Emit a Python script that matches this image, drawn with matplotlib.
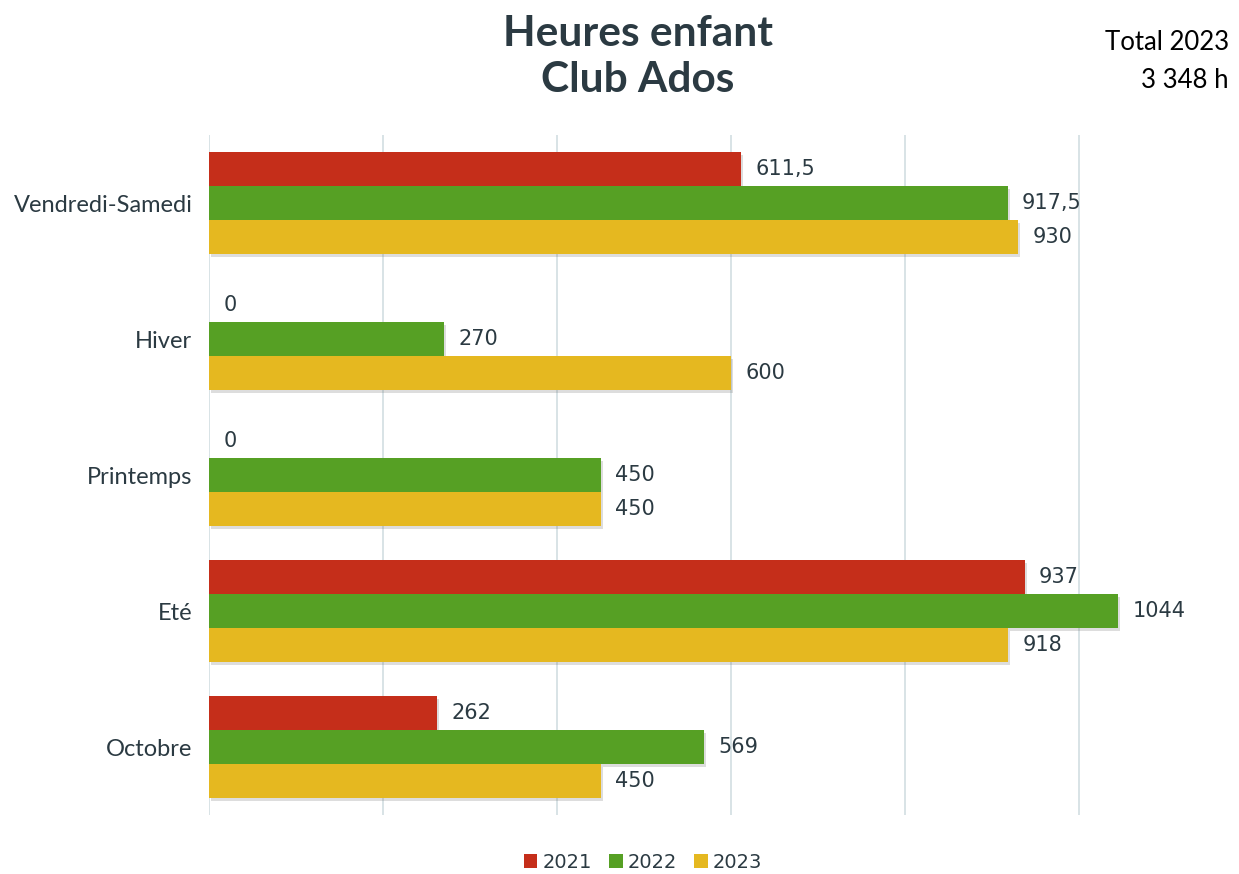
import numpy as np
import matplotlib.pyplot as plt
import matplotlib.patheffects as pe

#==================================DATA========================================#

categories = ["Vendredi-Samedi", "Hiver", "Printemps", "Eté", "Octobre"]
years = ["2021", "2022", "2023"]
h2021 = [611.5, 0, 0, 937, 262]
h2022 = [917.5, 270, 450, 1044, 569]
h2023 = [930, 600, 450, 918, 450]
grid_ticks = [0, 200, 400, 600, 800, 1000]

colors = ["#C52E1A", "#56A024", "#E5B820"]
txt = "#2B3A42"

def fmt(v):
    if v == int(v):
        return str(int(v))
    return str(v).replace(".", ",")

#==================================PLOT========================================#

fig = plt.figure(figsize=(12.39, 8.74), dpi=100)
ax = fig.add_axes([209/1239, 1 - 815/874, 1027/1239, 680/874])

y = np.arange(len(categories))
bh = 0.25
shadow = [pe.SimplePatchShadow(offset=(1.5, -2.2), shadow_rgbFace="#666666", alpha=0.22), pe.Normal()]

for k, (vals, c, yr) in enumerate(zip([h2021, h2022, h2023], colors, years)):
    pos = y + (k - 1) * bh
    bars = ax.barh(pos, vals, height=bh, color=c, label=yr, zorder=3)
    for b in bars:
        if b.get_width() > 0:
            b.set_path_effects(shadow)
    for p, v in zip(pos, vals):
        ax.annotate(fmt(v), (v, p), xytext=(10.5, 0), textcoords="offset points",
                    va="center", ha="left", fontsize=15, color=txt,
                    family="DejaVu Sans", zorder=4)

for g in grid_ticks:
    ax.axvline(g, color="#D5E0E4", lw=1.3, zorder=1)

ax.set_xlim(0, 1180)
ax.set_ylim(len(categories) - 0.5, -0.5)
ax.set_xticks([])
ax.set_yticks(y)
ax.set_yticklabels(categories, fontsize=17, color=txt, family="Lato")
ax.tick_params(axis="y", length=0, pad=12)
for s in ax.spines.values():
    s.set_visible(False)

fig.text(638/1239, 1 - 57/874, "Heures enfant\nClub Ados", ha="center", va="center",
         fontsize=30.5, fontweight="bold", color=txt, family="Lato", linespacing=1.29)
fig.text(1229/1239, 1 - 62/874, "Total 2023\n3 348 h", ha="right", va="center",
         fontsize=18.5, color="black", family="Lato", linespacing=1.65)

leg = fig.legend(loc="center", bbox_to_anchor=(643/1239, 1 - 862/874), ncol=3,
                 frameon=False, handlelength=0.7, handleheight=0.7, handletextpad=0.25,
                 columnspacing=0.9, prop={"family": "DejaVu Sans", "size": 14})
for t in leg.get_texts():
    t.set_color(txt)
for h in leg.legend_handles:
    h.set_path_effects([])

fig.savefig("out.png", dpi=100)
